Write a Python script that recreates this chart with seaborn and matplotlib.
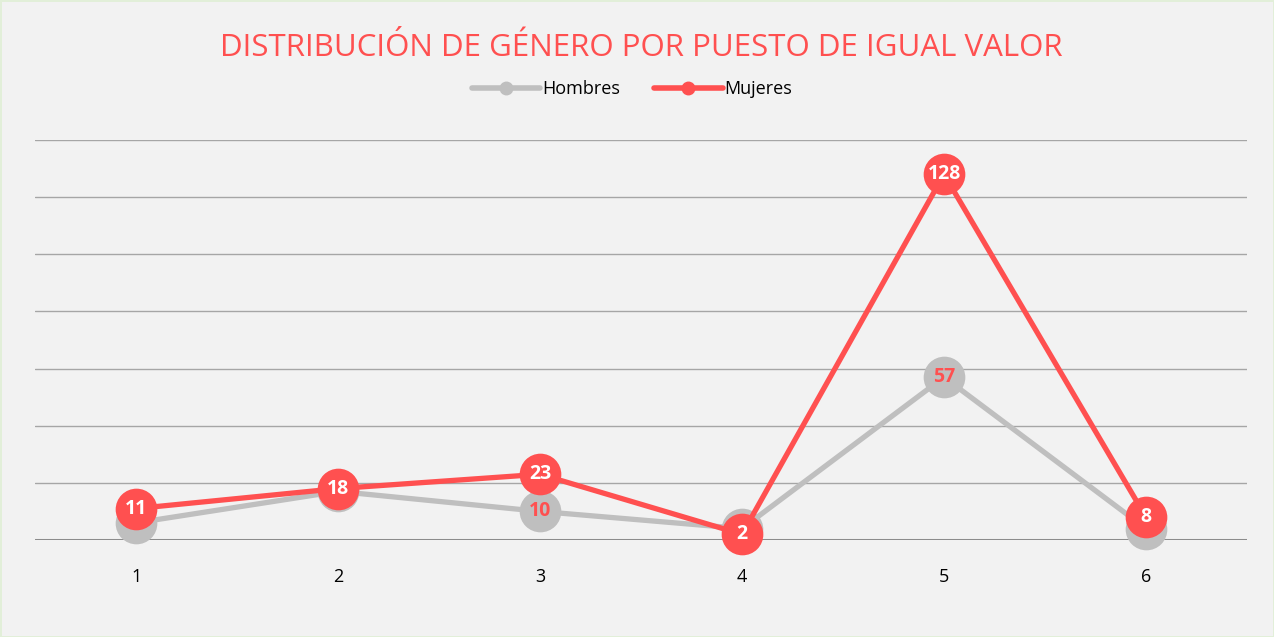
import matplotlib
matplotlib.use('Agg')
import matplotlib.pyplot as plt
from matplotlib.lines import Line2D
import pandas as pd
import seaborn as sns

PUESTOS = [1, 2, 3, 4, 5, 6]
HOMBRES = [6, 17, 10, 4, 57, 4]
MUJERES = [11, 18, 23, 2, 128, 8]
# only these men's labels are visible (the rest sit under the red markers)
HOMBRES_VISIBLES = [3, 5]

GRIS = '#bfbfbf'
ROJO = '#ff5050'
FONDO = '#f2f2f2'

sns.set_theme(style='white')
plt.rcParams['font.family'] = ['Open Sans', 'DejaVu Sans']

df = pd.DataFrame({'Puesto': PUESTOS, 'Hombres': HOMBRES, 'Mujeres': MUJERES})

fig = plt.figure(figsize=(12.74, 6.37), dpi=100, facecolor=FONDO,
                 edgecolor='#e2efd9', linewidth=2)
ax = fig.add_axes([0.0275, 0.1523, 0.9513, 0.6279])
ax.set_facecolor(FONDO)

for y in range(20, 141, 20):
    ax.axhline(y, color='#a6a6a6', linewidth=1, zorder=1)
ax.axhline(0, color='#8c8c8c', linewidth=2.2, zorder=1)

sns.lineplot(x='Puesto', y='Hombres', data=df, ax=ax, color=GRIS, linewidth=3.8,
             marker='o', markersize=30, markeredgewidth=0, zorder=2, clip_on=False)
for x, v in zip(PUESTOS, HOMBRES):
    if x in HOMBRES_VISIBLES:
        ax.text(x, v, str(v), ha='center', va='center', color=ROJO,
                fontsize=14, fontweight='bold', zorder=3)

sns.lineplot(x='Puesto', y='Mujeres', data=df, ax=ax, color=ROJO, linewidth=3.8,
             marker='o', markersize=30, markeredgewidth=0, zorder=4, clip_on=False)
for x, v in zip(PUESTOS, MUJERES):
    ax.text(x, v, str(v), ha='center', va='center', color='white',
            fontsize=14, fontweight='bold', zorder=5)

ax.set_xlim(0.5, 6.5)
ax.set_ylim(0, 140)
ax.set_xticks(PUESTOS)
ax.set_xticklabels([str(p) for p in PUESTOS], fontsize=13, color='black')
ax.tick_params(axis='x', length=0, pad=20)
ax.set_yticks([])
ax.set_xlabel('')
ax.set_ylabel('')
for s in ax.spines.values():
    s.set_visible(False)

fig.text(0.5035, 0.924, 'DISTRIBUCIÓN DE GÉNERO POR PUESTO DE IGUAL VALOR',
         ha='center', va='center', color=ROJO, fontsize=22.5)

handles = [Line2D([0], [0], color=GRIS, linewidth=4, marker='o', markersize=9),
           Line2D([0], [0], color=ROJO, linewidth=4, marker='o', markersize=9)]
fig.legend(handles, ['Hombres', 'Mujeres'], loc='center', bbox_to_anchor=(0.496, 0.86),
           ncol=2, frameon=False, fontsize=13, handlelength=3.8, handletextpad=0.1,
           columnspacing=1.9, labelcolor='black')

fig.savefig('out.png', dpi=100, facecolor=FONDO, edgecolor='#e2efd9')
